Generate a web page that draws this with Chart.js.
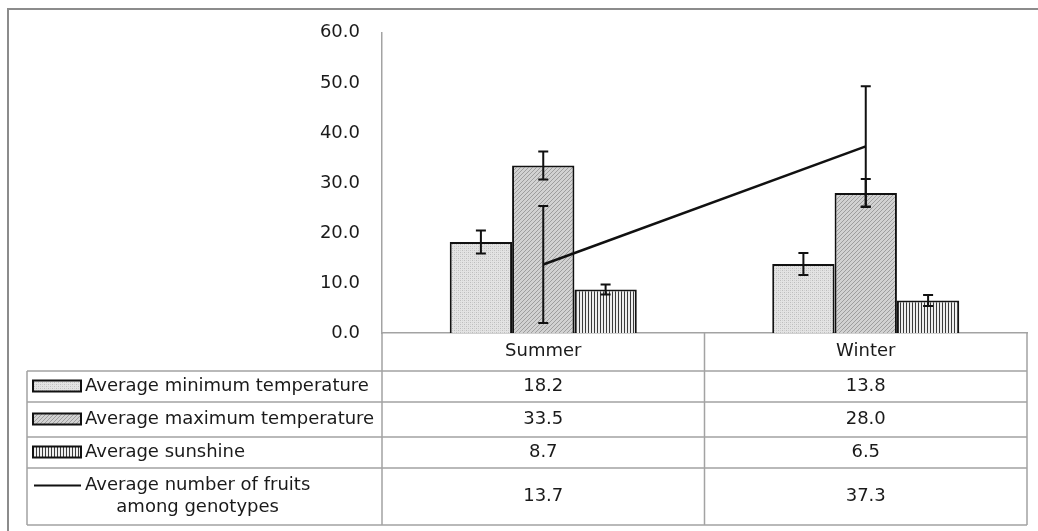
<!DOCTYPE html>
<html>
<head>
<meta charset="utf-8">
<script src="https://cdn.jsdelivr.net/npm/chart.js@4.4.0/dist/chart.umd.min.js"></script>
<style>
html, body { margin: 0; padding: 0; background: #fff; }
</style>
</head>
<body>
<canvas id="chart" width="1038" height="531"></canvas>
<script>
// data
var seasons = ['Summer', 'Winter'];
var minTemp = [18.2, 13.8];
var maxTemp = [33.5, 28.0];
var sunshine = [8.7, 6.5];
var fruits = [13.7, 37.3];
var minTempErr = [2.3, 2.2];
var maxTempErr = [2.8, 2.8];
var sunshineErr = [1.0, 1.1];
var fruitsErr = [11.7, 12.0];
var yTicks = [0, 10, 20, 30, 40, 50, 60];
var rowLabels = [
    ['Average minimum temperature'],
    ['Average maximum temperature'],
    ['Average sunshine'],
    ['Average number of fruits', 'among genotypes']
];

var FONT = 'DejaVu Sans';
var FONT_SIZE = 18;
var canvas = document.getElementById('chart');
var ctx = canvas.getContext('2d');

function makePattern(kind) {
    var p = document.createElement('canvas');
    var g = p.getContext('2d');
    if (kind == 'dots') {
        p.width = 4; p.height = 4;
        g.fillStyle = '#e3e3e3'; g.fillRect(0, 0, 4, 4);
        g.fillStyle = '#bdbdbd';
        g.fillRect(0, 0, 1, 1); g.fillRect(2, 2, 1, 1);
        g.fillStyle = '#d0d0d0';
        g.fillRect(2, 0, 1, 1); g.fillRect(0, 2, 1, 1);
    } else if (kind == 'diag') {
        p.width = 4; p.height = 4;
        g.fillStyle = '#d2d2d2'; g.fillRect(0, 0, 4, 4);
        g.fillStyle = '#9e9e9e';
        for (var i = 0; i < 4; i++) g.fillRect(i, 3 - i, 1, 1);
    } else {
        p.width = 3; p.height = 2;
        g.fillStyle = '#eeeeee'; g.fillRect(0, 0, 3, 2);
        g.fillStyle = '#3a3a3a'; g.fillRect(0, 0, 1, 2);
    }
    return ctx.createPattern(p, 'repeat');
}

var patMin = makePattern('dots');
var patMax = makePattern('diag');
var patSun = makePattern('vert');

// table rows, in pixels (layout only)
var tableLeft = 27;
var rowEdges = [333, 371, 402, 437, 468, 525];
var gridColor = '#a3a3a3';

var errorBars = {
    id: 'errorBars',
    afterDatasetsDraw: function(chart) {
        var y = chart.scales.y;
        var c = chart.ctx;
        c.save();
        c.strokeStyle = '#111';
        c.lineWidth = 2;
        chart.data.datasets.forEach(function(ds, di) {
            var meta = chart.getDatasetMeta(di);
            meta.data.forEach(function(el, i) {
                var v = ds.data[i], e = ds.errors[i];
                var top = y.getPixelForValue(v + e);
                var bot = y.getPixelForValue(v - e);
                c.beginPath();
                c.moveTo(el.x, top); c.lineTo(el.x, bot);
                c.moveTo(el.x - 5, top); c.lineTo(el.x + 5, top);
                c.moveTo(el.x - 5, bot); c.lineTo(el.x + 5, bot);
                c.stroke();
            });
        });
        c.restore();
    }
};

var dataTable = {
    id: 'dataTable',
    afterDraw: function(chart) {
        var c = chart.ctx;
        var area = chart.chartArea;
        var x = chart.scales.x;
        var c0 = x.getPixelForValue(0), c1 = x.getPixelForValue(1);
        var mid = (c0 + c1) / 2;
        var right = area.right;
        var bottom = rowEdges[rowEdges.length - 1];
        c.save();
        // outer frame (only top and left show in the picture)
        c.strokeStyle = '#8c8c8c';
        c.lineWidth = 2;
        c.beginPath();
        c.moveTo(8, 531); c.lineTo(8, 9); c.lineTo(1038, 9);
        c.stroke();

        c.strokeStyle = gridColor;
        c.lineWidth = 1.5;
        c.beginPath();
        for (var r = 1; r < rowEdges.length; r++) {
            c.moveTo(tableLeft, rowEdges[r]); c.lineTo(right, rowEdges[r]);
        }
        c.moveTo(area.left, rowEdges[0]); c.lineTo(area.left, bottom);
        c.moveTo(mid, rowEdges[0]); c.lineTo(mid, bottom);
        c.moveTo(right, rowEdges[0]); c.lineTo(right, bottom);
        c.moveTo(tableLeft, rowEdges[1]); c.lineTo(tableLeft, bottom);
        c.stroke();

        var series = chart.data.datasets.slice().sort(function(a, b) { return a.row - b.row; });
        c.font = FONT_SIZE + 'px "' + FONT + '"';
        c.fillStyle = '#1a1a1a';
        c.textBaseline = 'middle';
        series.forEach(function(ds, i) {
            var top = rowEdges[i + 1], bot = rowEdges[i + 2];
            var cy = (top + bot) / 2;
            // legend key
            if (ds.type == 'line') {
                c.strokeStyle = '#111'; c.lineWidth = 2;
                c.beginPath(); c.moveTo(34, cy - 11); c.lineTo(81, cy - 11); c.stroke();
            } else {
                c.fillStyle = ds.backgroundColor;
                c.fillRect(33, cy - 6, 48, 11);
                c.strokeStyle = '#111'; c.lineWidth = 2;
                c.strokeRect(33, cy - 6, 48, 11);
            }
            c.fillStyle = '#1a1a1a';
            var lines = rowLabels[ds.row];
            if (lines.length == 1) {
                c.textAlign = 'left';
                c.fillText(lines[0], 85, cy);
            } else {
                c.textAlign = 'left';
                c.fillText(lines[0], 85, cy - 11);
                var w0 = c.measureText(lines[0]).width;
                c.textAlign = 'center';
                c.fillText(lines[1], 85 + w0 / 2, cy + 11);
            }
            c.textAlign = 'center';
            ds.data.forEach(function(v, j) {
                c.fillText(v.toFixed(1), x.getPixelForValue(j), cy);
            });
        });
        c.restore();
    }
};

var chart = new Chart(ctx, {
    type: 'bar',
    data: {
        labels: seasons,
        datasets: [
            { type: 'line', label: 'Average number of fruits among genotypes', data: fruits, errors: fruitsErr, row: 3,
              borderColor: '#111', borderWidth: 2.5, pointRadius: 0, fill: false, order: 0 },
            { label: 'Average minimum temperature', data: minTemp, errors: minTempErr, row: 0,
              backgroundColor: patMin, borderColor: '#111', borderWidth: 2, order: 1 },
            { label: 'Average maximum temperature', data: maxTemp, errors: maxTempErr, row: 1,
              backgroundColor: patMax, borderColor: '#111', borderWidth: 2, order: 1 },
            { label: 'Average sunshine', data: sunshine, errors: sunshineErr, row: 2,
              backgroundColor: patSun, borderColor: '#111', borderWidth: 2, order: 1 }
        ]
    },
    options: {
        responsive: false,
        animation: false,
        devicePixelRatio: 1,
        layout: { padding: { top: 32, right: 11, left: 0, bottom: 0 } },
        datasets: { bar: { barPercentage: 1.0, categoryPercentage: 0.58 } },
        plugins: { legend: { display: false }, tooltip: { enabled: false } },
        scales: {
            x: {
                grid: { display: false, drawTicks: false },
                border: { color: gridColor, width: 1.5 },
                ticks: { color: '#1a1a1a', padding: 8, font: { family: FONT, size: FONT_SIZE } },
                afterFit: function(s) { s.height = 198; }
            },
            y: {
                min: 0, max: 60,
                grid: { display: false, drawTicks: false },
                border: { color: gridColor, width: 1.5 },
                afterBuildTicks: function(s) { s.ticks = yTicks.map(function(v) { return { value: v }; }); },
                ticks: { color: '#1a1a1a', padding: 22, font: { family: FONT, size: FONT_SIZE },
                         callback: function(v) { return Number(v).toFixed(1); } },
                afterFit: function(s) { s.width = 382; }
            }
        }
    },
    plugins: [errorBars, dataTable]
});
</script>
</body>
</html>
